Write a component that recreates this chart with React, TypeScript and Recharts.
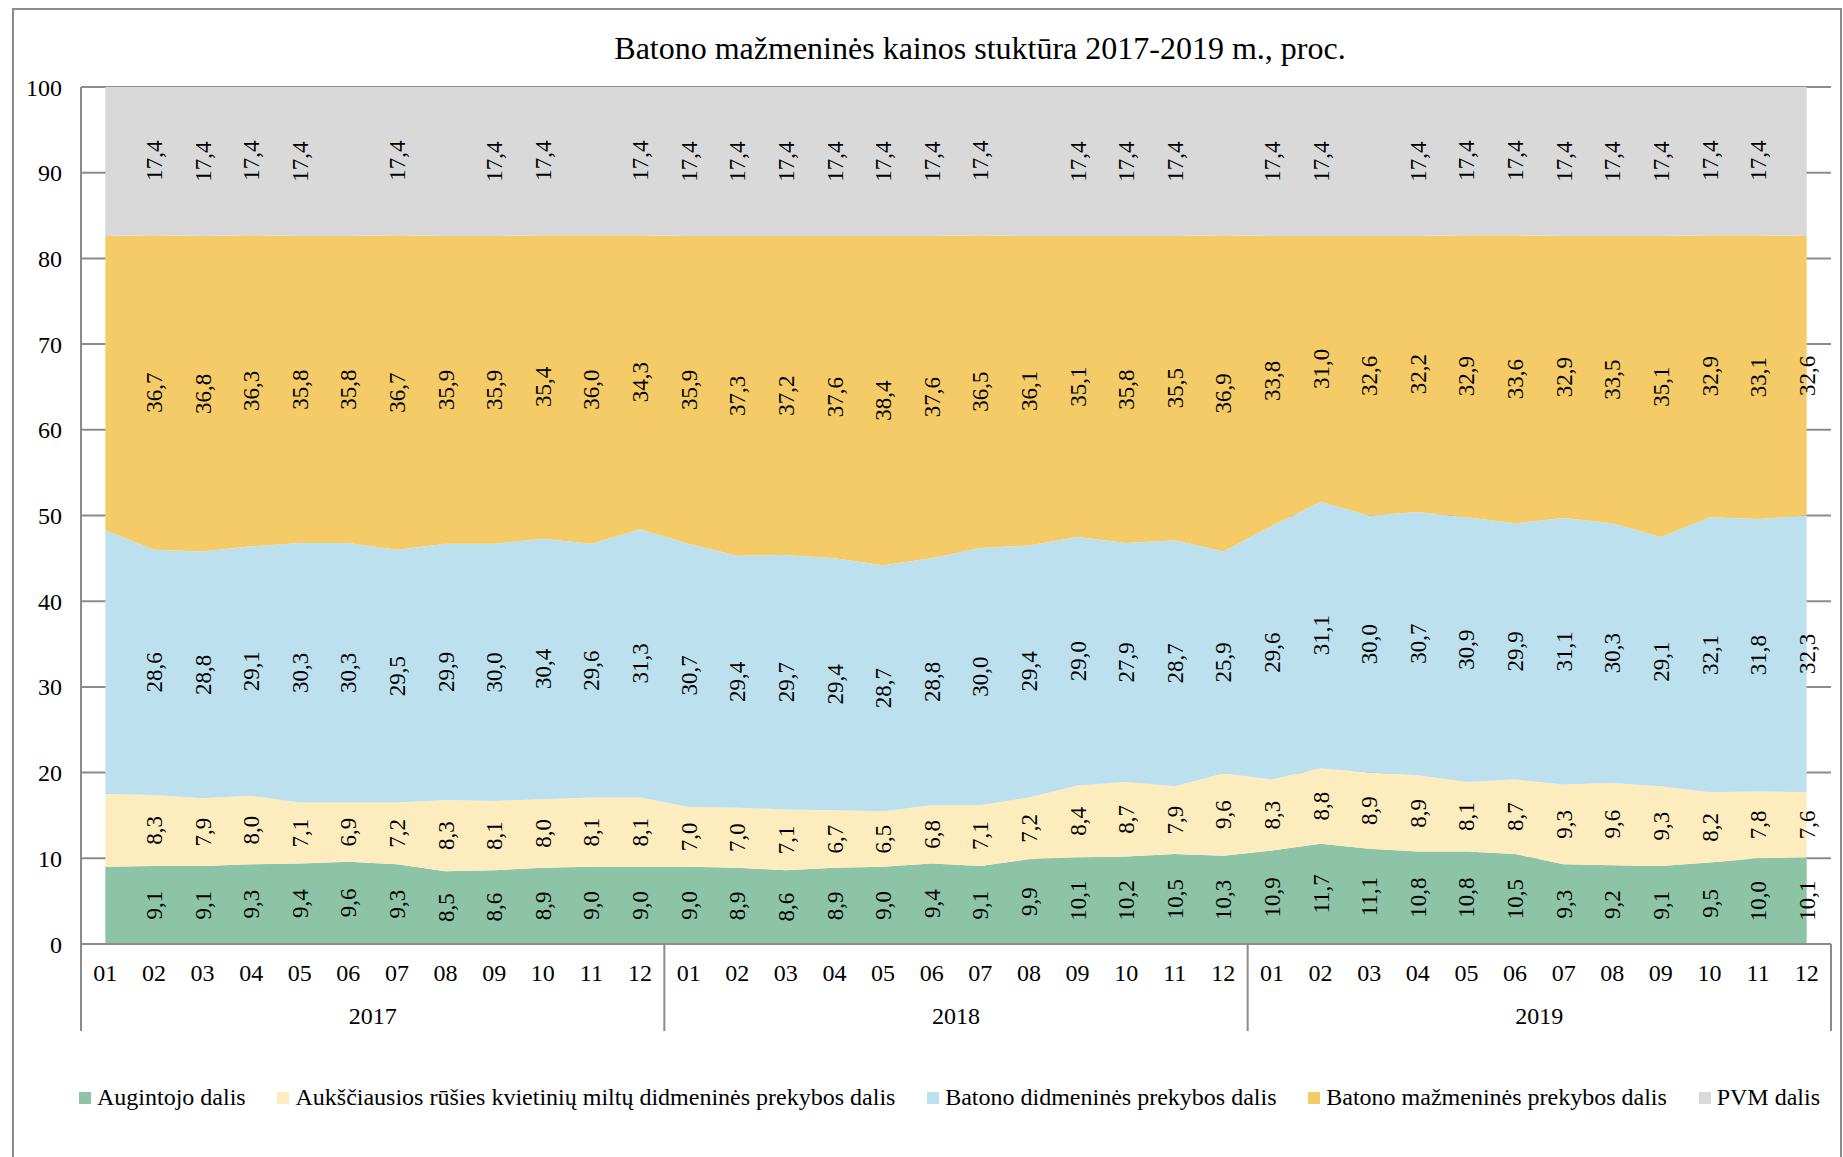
import React from 'react';
import { AreaChart, Area, XAxis, YAxis, CartesianGrid, Legend, LabelList } from 'recharts';

const months = [
  '01', '02', '03', '04', '05', '06', '07', '08', '09', '10', '11', '12',
  '01', '02', '03', '04', '05', '06', '07', '08', '09', '10', '11', '12',
  '01', '02', '03', '04', '05', '06', '07', '08', '09', '10', '11', '12',
];
const years = ['2017', '2018', '2019'];

// dalys procentais, 2017-01 ... 2019-12
const augintojas = [
  9.0, 9.1, 9.1, 9.3, 9.4, 9.6, 9.3, 8.5, 8.6, 8.9, 9.0, 9.0,
  9.0, 8.9, 8.6, 8.9, 9.0, 9.4, 9.1, 9.9, 10.1, 10.2, 10.5, 10.3,
  10.9, 11.7, 11.1, 10.8, 10.8, 10.5, 9.3, 9.2, 9.1, 9.5, 10.0, 10.1,
];
const miltai = [
  8.5, 8.3, 7.9, 8.0, 7.1, 6.9, 7.2, 8.3, 8.1, 8.0, 8.1, 8.1,
  7.0, 7.0, 7.1, 6.7, 6.5, 6.8, 7.1, 7.2, 8.4, 8.7, 7.9, 9.6,
  8.3, 8.8, 8.9, 8.9, 8.1, 8.7, 9.3, 9.6, 9.3, 8.2, 7.8, 7.6,
];
const didmenine = [
  30.8, 28.6, 28.8, 29.1, 30.3, 30.3, 29.5, 29.9, 30.0, 30.4, 29.6, 31.3,
  30.7, 29.4, 29.7, 29.4, 28.7, 28.8, 30.0, 29.4, 29.0, 27.9, 28.7, 25.9,
  29.6, 31.1, 30.0, 30.7, 30.9, 29.9, 31.1, 30.3, 29.1, 32.1, 31.8, 32.3,
];
const mazmenine = [
  34.3, 36.7, 36.8, 36.3, 35.8, 35.8, 36.7, 35.9, 35.9, 35.4, 36.0, 34.3,
  35.9, 37.3, 37.2, 37.6, 38.4, 37.6, 36.5, 36.1, 35.1, 35.8, 35.5, 36.9,
  33.8, 31.0, 32.6, 32.2, 32.9, 33.6, 32.9, 33.5, 35.1, 32.9, 33.1, 32.6,
];
const pvm = [
  17.4, 17.4, 17.4, 17.4, 17.4, 17.4, 17.4, 17.4, 17.4, 17.4, 17.4, 17.4,
  17.4, 17.4, 17.4, 17.4, 17.4, 17.4, 17.4, 17.4, 17.4, 17.4, 17.4, 17.4,
  17.4, 17.4, 17.4, 17.4, 17.4, 17.4, 17.4, 17.4, 17.4, 17.4, 17.4, 17.4,
];

// kurie taskai originale be etikeciu
const noLabels = [0];
const noLabelsPvm = [0, 5, 7, 10, 19, 23, 26, 35];

const series = [
  { key: 'augintojas', name: 'Augintojo dalis', color: '#8DC3A6', hidden: noLabels },
  { key: 'miltai', name: 'Aukščiausios rūšies kvietinių miltų didmeninės prekybos dalis', color: '#FDEDBE', hidden: noLabels },
  { key: 'didmenine', name: 'Batono didmeninės prekybos dalis', color: '#BDE0EF', hidden: noLabels },
  { key: 'mazmenine', name: 'Batono mažmeninės prekybos dalis', color: '#F4CB67', hidden: noLabels },
  { key: 'pvm', name: 'PVM dalis', color: '#D9D9D9', hidden: noLabelsPvm },
];

const data = months.map((m, i) => ({
  idx: i,
  augintojas: augintojas[i],
  miltai: miltai[i],
  didmenine: didmenine[i],
  mazmenine: mazmenine[i],
  pvm: pvm[i],
}));

const FONT = '"Liberation Serif", "Times New Roman", serif';
const GRAY = '#8C8C8C';
const W = 1843;
const H = 1157;
const M = { top: 87, right: 12, left: 21, bottom: 83 };
const Y_AXIS_W = 60;
const X_AXIS_H = 100;
const PLOT_W = W - M.left - M.right - Y_AXIS_W;
const PLOT_H = 857;
const BAND = PLOT_W / months.length;

const fmt = (v: number) => v.toFixed(1).replace('.', ',');

function MonthTick(props: any) {
  const { x, y, payload } = props;
  const i = payload.value as number;
  const left = x - BAND / 2;
  const right = x + BAND / 2;
  return (
    <g>
      <text x={x} y={y + 29} dy="0.35em" textAnchor="middle" fontFamily={FONT} fontSize={24} fill="#000">
        {months[i]}
      </text>
      {i % 12 === 0 && <line x1={left} x2={left} y1={y} y2={y + 87} stroke={GRAY} strokeWidth={2} />}
      {i === months.length - 1 && <line x1={right} x2={right} y1={y} y2={y + 87} stroke={GRAY} strokeWidth={2} />}
      {i % 12 === 5 && (
        <text x={right} y={y + 72} dy="0.35em" textAnchor="middle" fontFamily={FONT} fontSize={24} fill="#000">
          {years[Math.floor(i / 12)]}
        </text>
      )}
    </g>
  );
}

const makeLabel = (hidden: number[]) => (props: any) => {
  const { index, value } = props;
  if (hidden.includes(index) || value == null) return null;
  const x = props.x ?? props.viewBox?.x;
  const y = props.y ?? props.viewBox?.y;
  const cy = y + (value * PLOT_H) / 100 / 2;
  return (
    <text
      key={`l-${index}`}
      x={x}
      y={cy}
      dy="0.35em"
      textAnchor="middle"
      transform={`rotate(-90 ${x} ${cy})`}
      fontFamily={FONT}
      fontSize={23}
      fill="#000"
    >
      {fmt(value)}
    </text>
  );
};

function LegendRow() {
  return (
    <div style={{ display: 'flex', justifyContent: 'space-between', fontFamily: FONT, fontSize: 24, color: '#000', whiteSpace: 'nowrap' }}>
      {series.map((s) => (
        <div key={s.key} style={{ display: 'flex', alignItems: 'center' }}>
          <span style={{ display: 'inline-block', width: 12, height: 12, background: s.color, marginRight: 6 }} />
          <span>{s.name}</span>
        </div>
      ))}
    </div>
  );
}

export default function App() {
  return (
    <div style={{ position: 'absolute', left: 0, top: 0, width: W, height: H, overflow: 'hidden', background: '#fff' }}>
      <div
        style={{
          position: 'absolute',
          left: 12,
          top: 8,
          width: 1826,
          height: 1170,
          borderTop: `2px solid ${GRAY}`,
          borderLeft: `2px solid ${GRAY}`,
          borderRight: `2px solid ${GRAY}`,
        }}
      />
      <div
        style={{
          position: 'absolute',
          left: 980,
          top: 30,
          transform: 'translateX(-50%)',
          fontFamily: FONT,
          fontSize: 32,
          color: '#000',
          whiteSpace: 'nowrap',
        }}
      >
        Batono mažmeninės kainos stuktūra 2017-2019 m., proc.
      </div>
      <div style={{ position: 'absolute', left: 0, top: 0 }}>
        <AreaChart width={W} height={H} data={data} margin={M}>
          <CartesianGrid vertical={false} stroke={GRAY} strokeWidth={2} />
          <XAxis
            dataKey="idx"
            type="number"
            domain={[-0.5, months.length - 0.5]}
            ticks={data.map((d) => d.idx)}
            interval={0}
            height={X_AXIS_H}
            tickLine={false}
            tickSize={0}
            tickMargin={0}
            axisLine={{ stroke: GRAY, strokeWidth: 2 }}
            tick={<MonthTick />}
          />
          <YAxis
            domain={[0, 100]}
            ticks={[0, 10, 20, 30, 40, 50, 60, 70, 80, 90, 100]}
            allowDataOverflow
            width={Y_AXIS_W}
            tickLine={false}
            tickSize={0}
            tickMargin={19}
            axisLine={{ stroke: GRAY, strokeWidth: 2 }}
            tick={{ fontFamily: FONT, fontSize: 24, fill: '#000' }}
          />
          <Legend
            verticalAlign="bottom"
            content={() => <LegendRow />}
            wrapperStyle={{ left: 79, top: 1084, width: 1741, height: 30 }}
          />
          {series.map((s) => (
            <Area
              key={s.key}
              type="linear"
              dataKey={s.key}
              name={s.name}
              stackId="1"
              stroke="none"
              fill={s.color}
              fillOpacity={1}
              dot={false}
              activeDot={false}
              isAnimationActive={false}
            >
              <LabelList dataKey={s.key} content={makeLabel(s.hidden)} />
            </Area>
          ))}
        </AreaChart>
      </div>
    </div>
  );
}
